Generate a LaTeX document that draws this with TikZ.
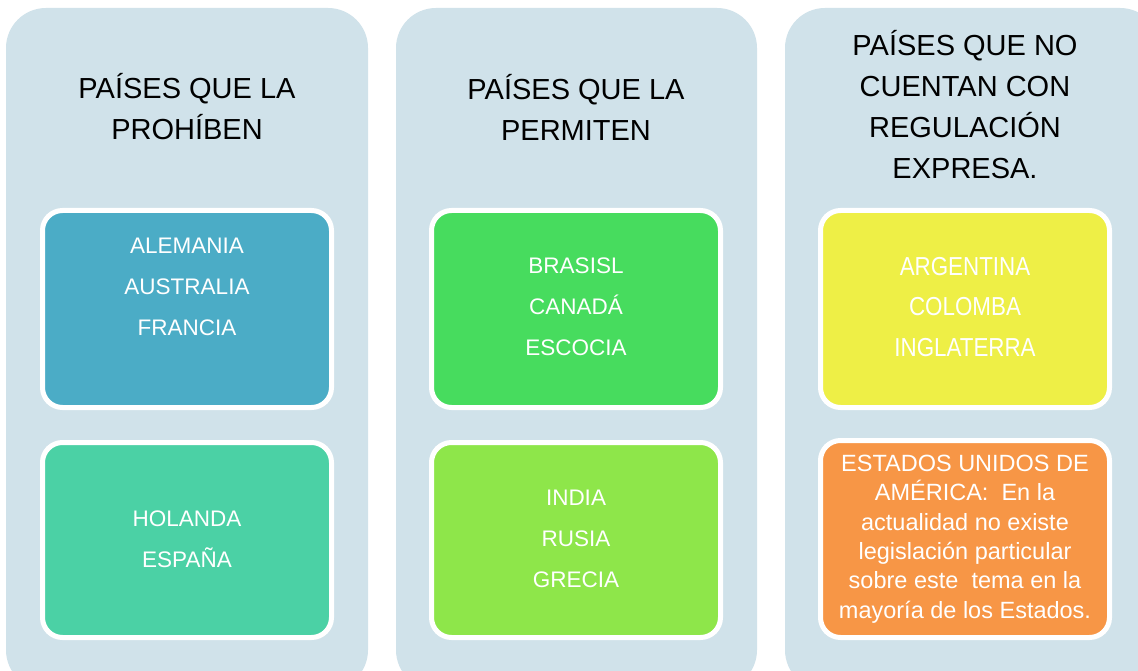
\documentclass[tikz,border=0pt]{standalone}
\usepackage{fontspec}
\setmainfont{Liberation Sans}
\newfontfamily\narrowfont[FakeStretch=0.86]{Liberation Sans}
\definecolor{colbg}{HTML}{D0E2EA}
\definecolor{cblue}{HTML}{4BACC6}
\definecolor{cteal}{HTML}{4BD1A5}
\definecolor{cgreen}{HTML}{47DC5E}
\definecolor{clime}{HTML}{8EE64A}
\definecolor{cyellow}{HTML}{EEEF46}
\definecolor{corange}{HTML}{F79646}
\tikzset{
  column/.style={fill=colbg, rounded corners=40pt},
  box/.style={draw=white, line width=5pt, rounded corners=20pt,
    minimum width=289pt, minimum height=197pt, inner sep=0pt},
  title/.style={font=\fontsize{29}{41}\selectfont, align=center, text=black},
  items/.style={font=\fontsize{22.5}{41}\selectfont, align=center, text=white},
  nitems/.style={font=\narrowfont\fontsize{26}{40.5}\selectfont, align=center, text=white},
}
\begin{document}
\begin{tikzpicture}[x=1pt,y=-1pt]
\useasboundingbox (0,0) rectangle (1138,671);
\fill[white] (0,0) rectangle (1138,671);
% columns
\foreach \l/\r in {6/368,396/757,785/1160}
  \fill[column] (\l,8) rectangle (\r,690);
% titles
\node[title] (prohiben) at (187,107) {PAÍSES QUE LA\\PROHÍBEN};
\node[title] (permiten) at (576,107) {PAÍSES QUE LA\\PERMITEN};
\node[title] (sinreg) at (965,105) {PAÍSES QUE NO\\CUENTAN CON\\REGULACIÓN\\EXPRESA.};
% boxes
\node[box, fill=cblue] (boxA) at (187,309) {};
\node[box, fill=cteal, minimum height=195pt] (boxB) at (187,540) {};
\node[box, fill=cgreen] (boxC) at (576,309) {};
\node[box, fill=clime, minimum height=195pt] (boxD) at (576,540) {};
\node[box, fill=cyellow] (boxE) at (965,309) {};
\node[box, fill=corange, minimum height=197pt] (boxF) at (965,539) {};
% texts
\node[items] (listA) at (187,287) {ALEMANIA\\AUSTRALIA\\FRANCIA};
\node[items] (listB) at (187,539) {HOLANDA\\ESPAÑA};
\node[items] (listC) at (576,307) {BRASISL\\CANADÁ\\ESCOCIA};
\node[items] (listD) at (576,539) {INDIA\\RUSIA\\GRECIA};
\node[nitems] (listE) at (965,307) {ARGENTINA\\COLOMBA\\INGLATERRA};
\node[items, font=\fontsize{23.5}{29.3}\selectfont] (listF) at (965,539)
  {ESTADOS UNIDOS DE\\AMÉRICA:\ \ En la\\actualidad no existe\\legislación particular\\sobre este\ \ tema en la\\mayoría de los Estados.};
\end{tikzpicture}
\end{document}
